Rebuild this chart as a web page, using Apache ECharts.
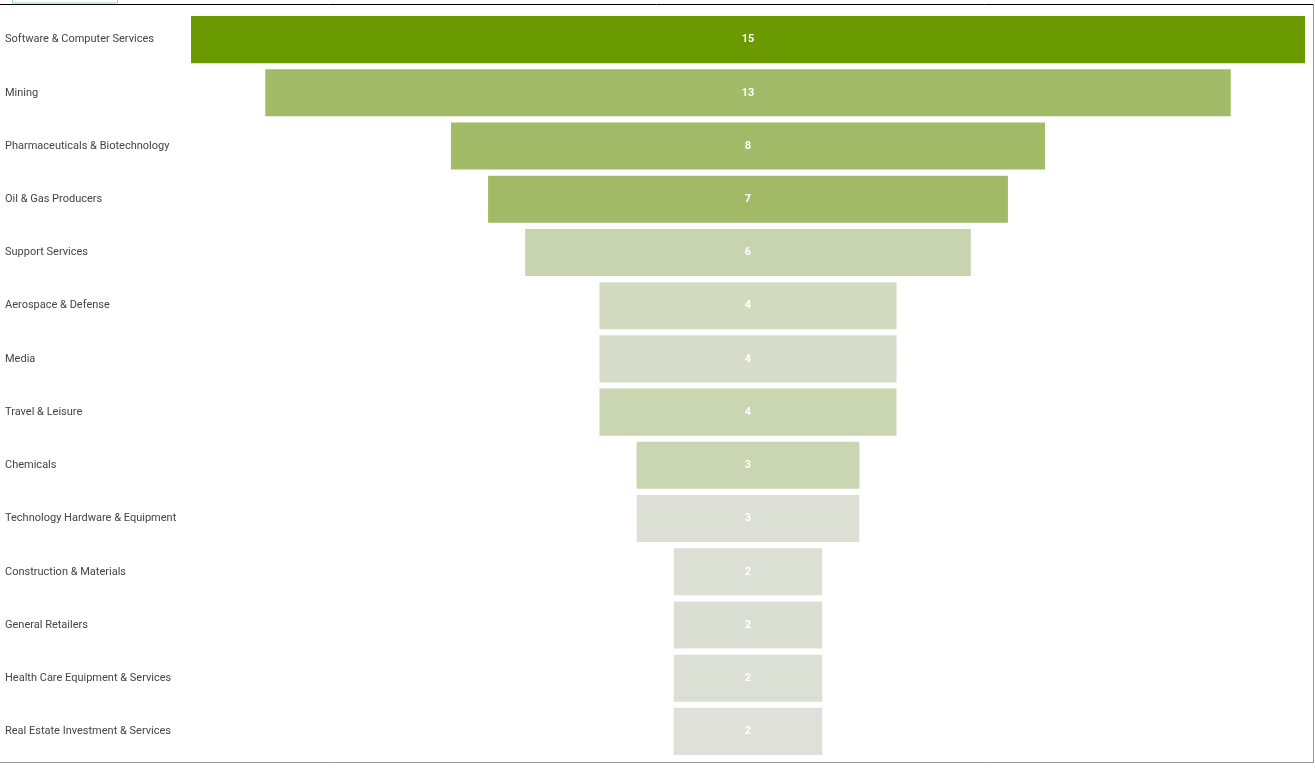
<!DOCTYPE html>
<html>
<head>
<meta charset="utf-8">
<style>
  html, body { margin: 0; padding: 0; background: #fff; }
  #chart { width: 1315px; height: 771px; }
</style>
<script src="https://cdn.jsdelivr.net/npm/echarts@6/dist/echarts.min.js"></script>
</head>
<body>
<div id="chart"></div>
<script>
// industries, top to bottom
const categories = [
  'Software & Computer Services',
  'Mining',
  'Pharmaceuticals & Biotechnology',
  'Oil & Gas Producers',
  'Support Services',
  'Aerospace & Defense',
  'Media',
  'Travel & Leisure',
  'Chemicals',
  'Technology Hardware & Equipment',
  'Construction & Materials',
  'General Retailers',
  'Health Care Equipment & Services',
  'Real Estate Investment & Services'
];
const counts = [15, 13, 8, 7, 6, 4, 4, 4, 3, 3, 2, 2, 2, 2];
const barColors = [
  '#6a9a00', '#a2bb68', '#a2bb68', '#a2ba66', '#c8d4b0', '#d2dbbf', '#d8ddcb',
  '#cad5b1', '#cad5b1', '#dcdfd3', '#dcdfd3', '#dbdfd3', '#dcdfd4', '#dfe0da'
];

const maxCount = Math.max(...counts);
// transparent offset so the bars sit centred
const offsets = counts.map(v => (maxCount - v) / 2);

const chart = echarts.init(document.getElementById('chart'));
chart.setOption({
  animation: false,
  grid: { left: 191, right: 10, top: 13, bottom: 13 },
  xAxis: {
    type: 'value',
    min: 0,
    max: maxCount,
    show: false
  },
  yAxis: {
    type: 'category',
    inverse: true,
    data: categories,
    axisLine: { show: false },
    axisTick: { show: false },
    axisLabel: {
      align: 'left',
      margin: 186,
      color: '#444',
      fontSize: 11,
      fontFamily: 'Roboto'
    }
  },
  series: [
    {
      type: 'bar',
      stack: 'funnel',
      silent: true,
      itemStyle: { color: 'transparent' },
      data: offsets
    },
    {
      type: 'bar',
      stack: 'funnel',
      barCategoryGap: '11.6%',
      data: counts.map((v, i) => ({ value: v, itemStyle: { color: barColors[i] } })),
      label: {
        show: true,
        position: 'inside',
        color: '#fff',
        fontSize: 11,
        fontWeight: 'bold',
        fontFamily: 'Roboto',
        formatter: p => p.value
      }
    }
  ],
  graphic: [
    { type: 'line', shape: { x1: 0, y1: 4.5, x2: 1313, y2: 4.5 }, style: { stroke: '#000', lineWidth: 1 } },
    { type: 'line', shape: { x1: 1313.5, y1: 4, x2: 1313.5, y2: 762 }, style: { stroke: '#999', lineWidth: 1 } },
    { type: 'line', shape: { x1: 0, y1: 762.5, x2: 1314, y2: 762.5 }, style: { stroke: '#999', lineWidth: 1 } },
    { type: 'rect', shape: { x: 12.5, y: -2, width: 105, height: 5 }, style: { fill: '#fff', stroke: '#9ccbd8', lineWidth: 1 } }
  ]
});
</script>
</body>
</html>
